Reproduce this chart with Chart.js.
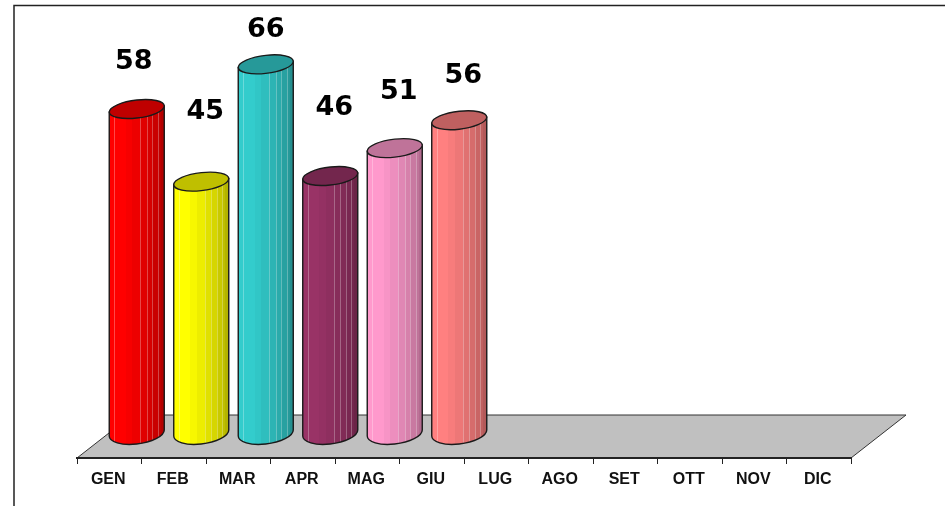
<!DOCTYPE html>
<html>
<head>
<meta charset="utf-8">
<script src="https://cdn.jsdelivr.net/npm/chart.js@4"></script>
<style>
    html, body { margin: 0; padding: 0; background: #fff; }
    #wrap { width: 950px; height: 506px; }
</style>
</head>
<body>
<div id="wrap"><canvas id="bar-chart" width="950" height="506"></canvas></div>
<script>
    // months and monthly totals
    const months = ['GEN', 'FEB', 'MAR', 'APR', 'MAG', 'GIU', 'LUG', 'AGO', 'SET', 'OTT', 'NOV', 'DIC'];
    const totals = [58, 45, 66, 46, 51, 56, null, null, null, null, null, null];

    // one colour per month
    const barColors = ['#ff0000', '#ffff00', '#33cccc', '#993366', '#ff99cc', '#ff8080'];

    // label shift from the top of each bar
    const labelShiftX = [-3, 4, 0, 4, 4, 4];
    const labelShiftY = [-51, -73, -38, -72, -60, -48];

    // floor depth, the bars stand half way back
    const depthX = 55;
    const depthY = 43;
    const capTilt = 3;
    const capHeight = 9;
    const footHeight = 11;

    const shade = (hex, f) => {
        const n = parseInt(hex.slice(1), 16);
        const r = Math.round((n >> 16 & 255) * f);
        const g = Math.round((n >> 8 & 255) * f);
        const b = Math.round((n & 255) * f);
        return `rgb(${r},${g},${b})`;
    };

    // stepped side shading of a cylinder
    const sideSteps = [[0, 1], [0.3, 0.97], [0.42, 0.93], [0.56, 0.88], [0.68, 0.84], [0.78, 0.79], [0.88, 0.75], [0.94, 0.7]];
    const sideLines = [0.09, 0.56, 0.68, 0.78, 0.88];

    class CylinderBar extends Chart.BarElement {
        static id = 'cylinder';

        draw(ctx) {
            const { x, y, base, width } = this.getProps(['x', 'y', 'base', 'width']);
            if (y === undefined || isNaN(y) || y === base) return;
            const color = this.options.backgroundColor;
            const rx = width / 2;
            const cx = x + depthX / 2;
            const topY = y - Math.round(depthY / 2) - capTilt;
            const botY = base - Math.round(depthY / 2) - capTilt;
            const left = cx - rx;

            ctx.save();
            // shear so both ends of the cylinder lean up to the right
            ctx.translate(cx, 0);
            ctx.transform(1, -capTilt / rx, 0, 1, 0, 0);
            ctx.translate(-cx, 0);

            const body = new Path2D();
            body.moveTo(left, topY);
            body.lineTo(left, botY);
            body.ellipse(cx, botY, rx, footHeight, 0, Math.PI, 0, true);
            body.lineTo(left + width, topY);
            body.closePath();

            const grad = ctx.createLinearGradient(left, 0, left + width, 0);
            sideSteps.forEach((s, i) => {
                const next = sideSteps[i + 1] ? sideSteps[i + 1][0] : 1;
                grad.addColorStop(s[0], shade(color, s[1]));
                grad.addColorStop(next, shade(color, s[1]));
            });
            ctx.fillStyle = grad;
            ctx.fill(body);

            // thin pale seams on the side
            ctx.save();
            ctx.clip(body);
            ctx.strokeStyle = 'rgba(255,255,255,0.28)';
            ctx.lineWidth = 1;
            sideLines.forEach((f) => {
                const sx = Math.round(left + width * f) + 0.5;
                ctx.beginPath();
                ctx.moveTo(sx, topY);
                ctx.lineTo(sx, botY + footHeight + 10);
                ctx.stroke();
            });
            ctx.restore();

            ctx.strokeStyle = '#1a1a1a';
            ctx.lineWidth = 1.4;
            ctx.stroke(body);

            // top cap
            ctx.beginPath();
            ctx.ellipse(cx, topY, rx, capHeight, 0, 0, Math.PI * 2);
            ctx.fillStyle = shade(color, 0.75);
            ctx.fill();
            ctx.stroke();
            ctx.restore();
        }
    }

    class CylinderController extends Chart.BarController {
        static id = 'cylinder';
        static defaults = { ...Chart.BarController.defaults, dataElementType: 'cylinder' };
    }

    Chart.register(CylinderBar, CylinderController);

    // outer frame and grey floor go under everything
    const floorPlugin = {
        id: 'floor',
        beforeDraw(chart) {
            const { ctx, chartArea } = chart;
            const { left, right, bottom } = chartArea;
            ctx.save();
            ctx.strokeStyle = '#222';
            ctx.lineWidth = 1.5;
            ctx.beginPath();
            ctx.moveTo(14, 506);
            ctx.lineTo(14, 5.5);
            ctx.lineTo(945, 5.5);
            ctx.stroke();

            ctx.beginPath();
            ctx.moveTo(left, bottom);
            ctx.lineTo(left + depthX, bottom - depthY);
            ctx.lineTo(right + depthX, bottom - depthY);
            ctx.lineTo(right, bottom);
            ctx.closePath();
            ctx.fillStyle = '#c0c0c0';
            ctx.fill();
            ctx.strokeStyle = '#333';
            ctx.lineWidth = 1;
            ctx.stroke();
            ctx.restore();
        }
    };

    // value labels above the bars
    const valueLabels = {
        id: 'valueLabels',
        afterDatasetsDraw(chart) {
            const { ctx } = chart;
            const meta = chart.getDatasetMeta(0);
            ctx.save();
            ctx.font = 'bold 27px "DejaVu Sans"';
            ctx.fillStyle = '#000';
            ctx.textAlign = 'center';
            ctx.textBaseline = 'middle';
            totals.forEach((v, i) => {
                if (v === null) return;
                const bar = meta.data[i];
                ctx.fillText(String(v), bar.x + depthX / 2 + labelShiftX[i], bar.y - depthY / 2 + labelShiftY[i]);
            });
            ctx.restore();
        }
    };

    new Chart(document.getElementById('bar-chart'), {
        type: 'cylinder',
        data: {
            labels: months,
            datasets: [{
                data: totals,
                backgroundColor: barColors,
                categoryPercentage: 1,
                barPercentage: 0.853,
                clip: false
            }]
        },
        options: {
            responsive: false,
            animation: false,
            layout: { padding: { left: 77, right: 99, top: 67, bottom: 0 } },
            plugins: { legend: { display: false }, tooltip: { enabled: false } },
            scales: {
                x: {
                    type: 'category',
                    offset: true,
                    afterFit: (axis) => { axis.height = 48; },
                    grid: {
                        offset: true,
                        drawOnChartArea: false,
                        color: '#222',
                        tickLength: 6,
                        tickWidth: 1
                    },
                    border: { display: true, color: '#222', width: 2 },
                    ticks: {
                        autoSkip: false,
                        maxRotation: 0,
                        padding: 6,
                        labelOffset: -1,
                        color: '#111',
                        font: { family: '"Liberation Sans"', size: 16, weight: 'bold' }
                    }
                },
                y: {
                    display: false,
                    min: 0,
                    max: 70
                }
            }
        },
        plugins: [floorPlugin, valueLabels]
    });
</script>
</body>
</html>
